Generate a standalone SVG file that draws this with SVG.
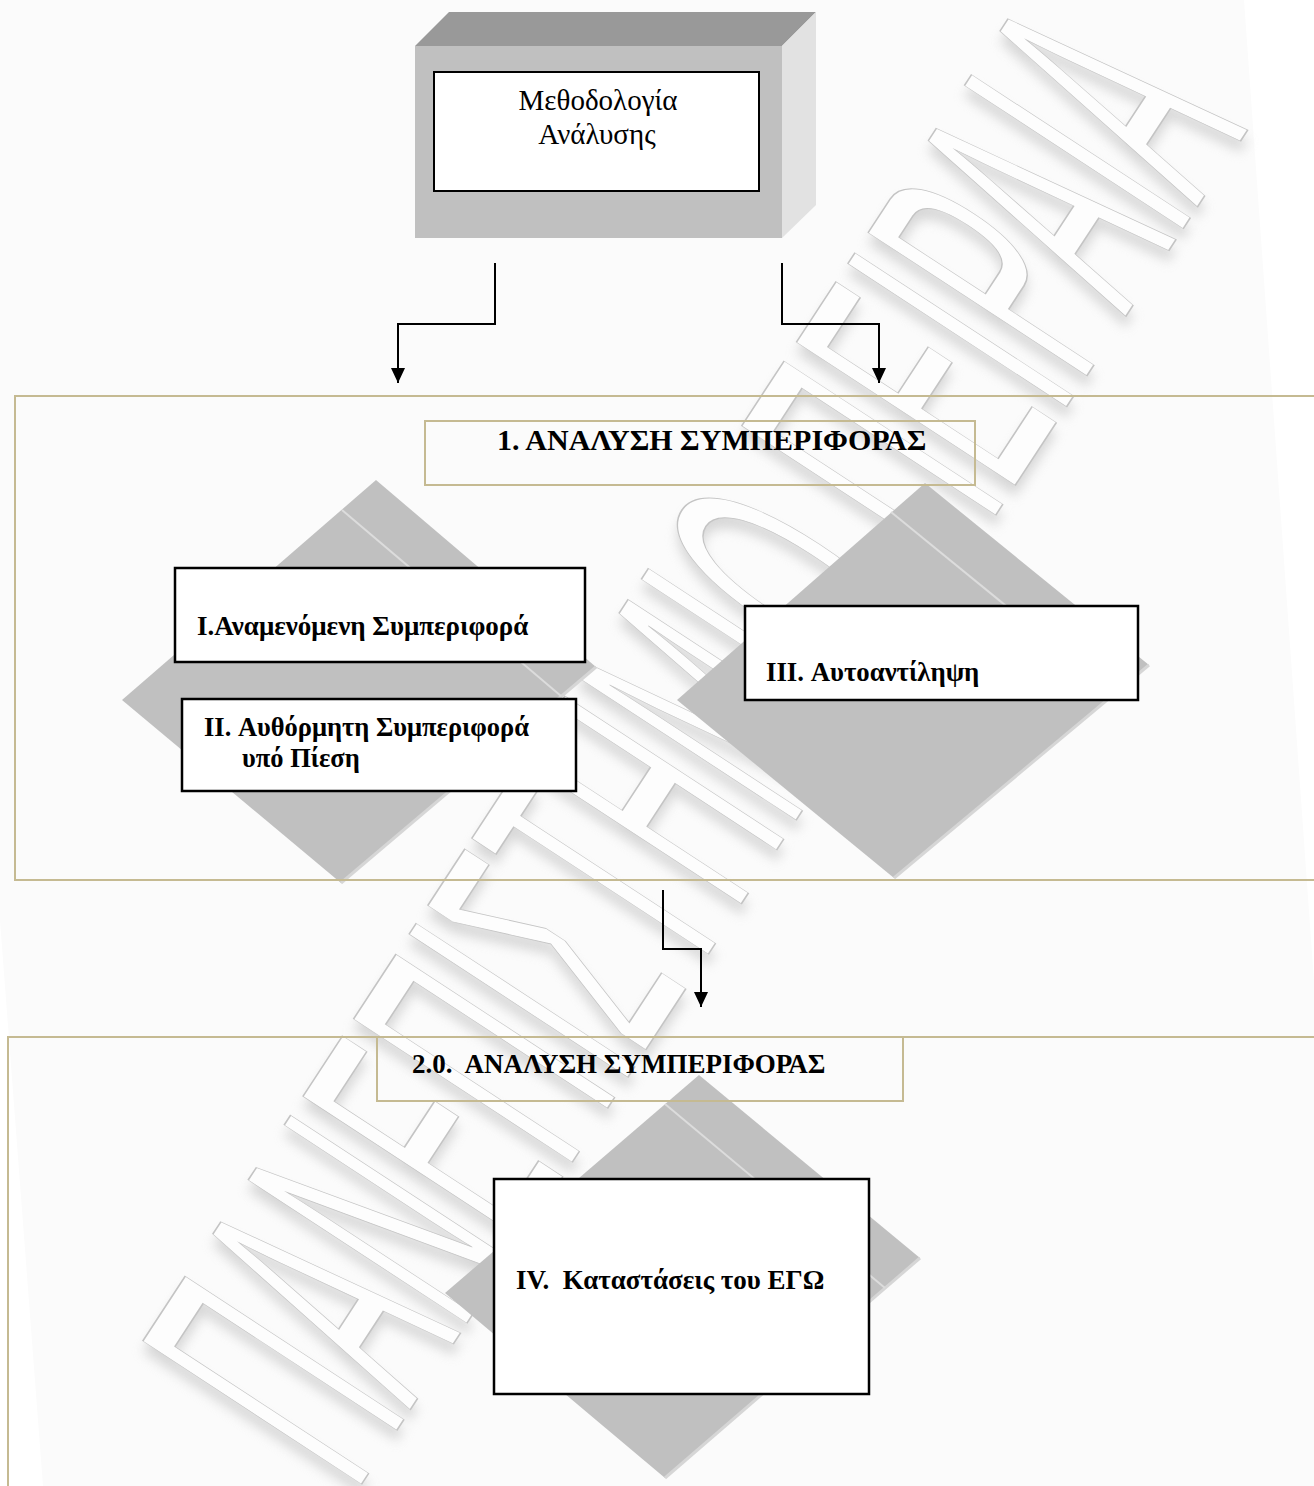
<svg xmlns="http://www.w3.org/2000/svg" width="1314" height="1486" viewBox="0 0 1314 1486">
  <defs>
    <style>
      .frame { fill: none; stroke: #c5ba92; stroke-width: 2; }
      .box { fill: #ffffff; stroke: #000000; stroke-width: 2.5; }
      .diamond { fill: #c0c0c0; }
      .sheen { stroke: #dcdcdc; stroke-width: 2; fill: none; }
      .rim { stroke: #d6d6d6; stroke-width: 3; fill: none; }
      .label { font-family: "Liberation Serif", "Times New Roman", serif; font-weight: bold; font-size: 27px; fill: #000000; white-space: pre; }
      .plain { font-family: "Liberation Serif", "Times New Roman", serif; font-size: 29px; fill: #000000; }
      .wire { fill: none; stroke: #000000; stroke-width: 2; }
      .wm { font-family: "Liberation Sans", Arial, sans-serif; font-size: 380px; }
    </style>
    <marker id="arrow" markerUnits="userSpaceOnUse" markerWidth="15" markerHeight="14" refX="15" refY="7" orient="auto">
      <path d="M0,0 L15,7 L0,14 Z" fill="#000000"/>
    </marker>
    <filter id="soft" x="-10%" y="-10%" width="120%" height="120%">
      <feGaussianBlur stdDeviation="6"/>
    </filter>
  </defs>

  <!-- paper -->
  <rect width="1314" height="1486" fill="#ffffff"/>
  <polygon points="-70,0 1244,0 1350,1486 43,1486" fill="#fbfbfb"/>

  <!-- diagonal watermark -->
  <g id="watermark" transform="translate(692,740) rotate(-56.8)">
    <text class="wm" x="-9" y="137" text-anchor="middle" textLength="1630" lengthAdjust="spacingAndGlyphs" fill="#c8c8c8" opacity="0.7" filter="url(#soft)">ΠΑΝΕΠΙΣΤΗΜΙΟ ΠΕΙΡΑΙΑ</text>
    <text class="wm" x="0" y="131" text-anchor="middle" textLength="1630" lengthAdjust="spacingAndGlyphs" fill="#fdfdfd" stroke="#c4c4c4" stroke-width="1.6">ΠΑΝΕΠΙΣΤΗΜΙΟ ΠΕΙΡΑΙΑ</text>
  </g>

  <!-- grey diamond backdrops -->
  <g id="backdrop-left">
    <polygon class="diamond" points="376,480 596,667 341,883 122,700"/>
    <line class="rim" x1="596" y1="667" x2="341" y2="883"/>
    <line class="sheen" x1="342" y1="510" x2="561" y2="696"/>
  </g>
  <g id="backdrop-right">
    <polygon class="diamond" points="925,483 1149,665 894,878 677,700"/>
    <line class="rim" x1="1149" y1="665" x2="894" y2="878"/>
    <line class="sheen" x1="891" y1="512" x2="1114" y2="694"/>
  </g>
  <g id="backdrop-bottom">
    <polygon class="diamond" points="699,1075 920,1258 665,1478 445,1293"/>
    <line class="rim" x1="920" y1="1258" x2="665" y2="1478"/>
    <line class="sheen" x1="665" y1="1104" x2="885" y2="1288"/>
  </g>

  <!-- source node: bevelled block -->
  <g id="node-methodology">
    <polygon points="415,46 449,12 816,12 782,46" fill="#999999"/>
    <polygon points="782,46 816,12 816,205 782,238" fill="#e2e2e2"/>
    <rect x="415" y="46" width="367" height="192" fill="#c0c0c0"/>
    <rect x="434" y="72" width="325" height="119" fill="#ffffff" stroke="#000000" stroke-width="2"/>
    <text class="plain" x="598" y="110" text-anchor="middle">Μεθοδολογία</text>
    <text class="plain" x="597" y="144" text-anchor="middle">Ανάλυσης</text>
  </g>

  <!-- section 1 -->
  <g id="section-1">
    <rect class="frame" x="15" y="396" width="1320" height="484"/>
    <rect class="frame" x="425" y="421" width="550" height="64"/>
    <text class="label" style="font-size:30px" x="497" y="450">1. ΑΝΑΛΥΣΗ ΣΥΜΠΕΡΙΦΟΡΑΣ</text>
  </g>

  <g id="node-expected">
    <rect class="box" x="175" y="568" width="410" height="94"/>
    <text class="label" x="197" y="635">I.Αναμενόμενη Συμπεριφορά</text>
  </g>

  <g id="node-spontaneous">
    <rect class="box" x="182" y="699" width="394" height="92"/>
    <text class="label" style="font-size:26.5px" x="204" y="736">II. Αυθόρμητη Συμπεριφορά</text>
    <text class="label" style="font-size:26.5px" x="242" y="767">υπό Πίεση</text>
  </g>

  <g id="node-selfperception">
    <rect class="box" x="745" y="606" width="393" height="94"/>
    <text class="label" style="font-size:26.8px" x="766" y="681">III. Αυτοαντίληψη</text>
  </g>

  <!-- section 2 -->
  <g id="section-2">
    <rect class="frame" x="8" y="1037" width="1330" height="480"/>
    <rect class="frame" x="377" y="1037" width="526" height="64"/>
    <text class="label" x="412" y="1073">2.0.  ΑΝΑΛΥΣΗ ΣΥΜΠΕΡΙΦΟΡΑΣ</text>
  </g>

  <g id="node-egostates">
    <rect class="box" x="494" y="1179" width="375" height="215"/>
    <text class="label" x="516" y="1289">IV.  Καταστάσεις του ΕΓΩ</text>
  </g>

  <!-- connectors -->
  <g id="connectors">
    <path class="wire" d="M495,263 V324 H398 V383" marker-end="url(#arrow)"/>
    <path class="wire" d="M782,263 V324 H879 V383" marker-end="url(#arrow)"/>
    <path class="wire" d="M663,890 V949 H701 V1007" marker-end="url(#arrow)"/>
  </g>
</svg>
